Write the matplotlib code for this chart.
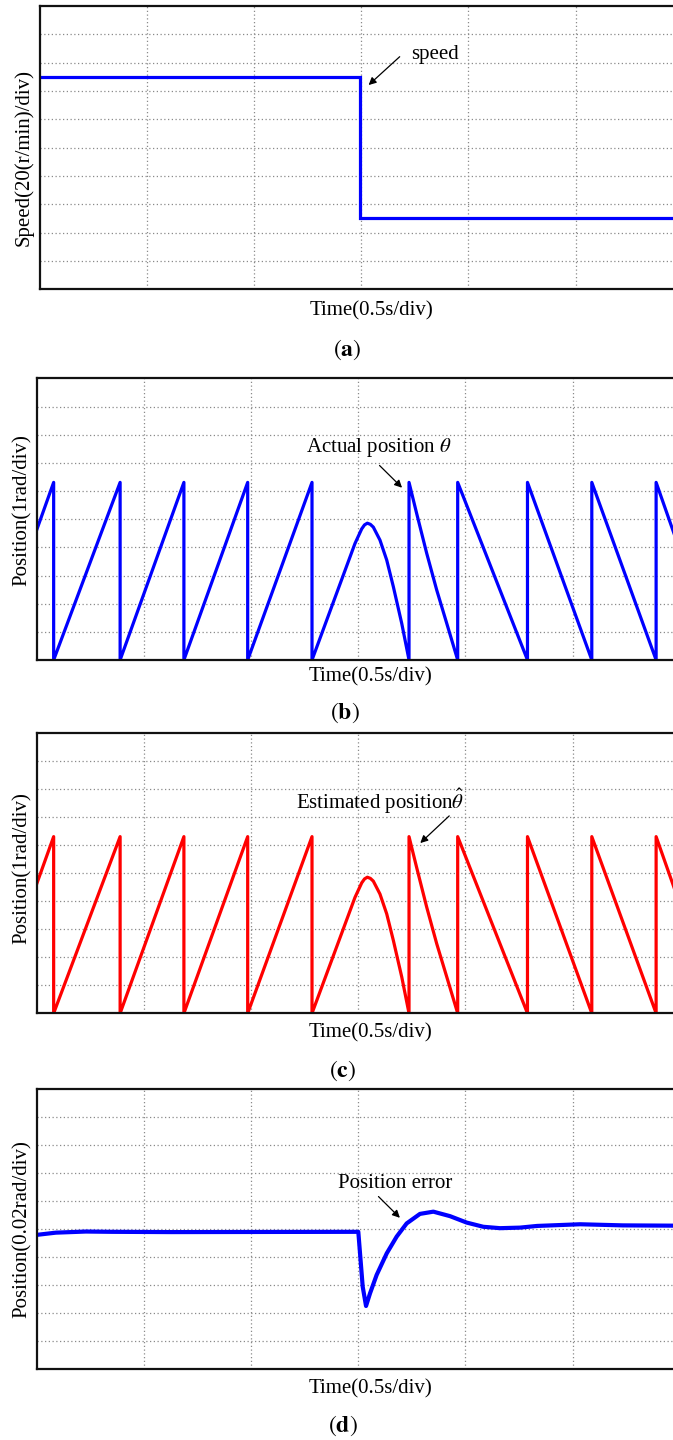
import matplotlib
matplotlib.use("Agg")
import matplotlib.pyplot as plt

plt.rcParams['font.family'] = ['Liberation Serif', 'DejaVu Serif']
plt.rcParams['mathtext.fontset'] = 'stix'

# ---------------- data (time and value in divisions) ----------------
speed_t = [0.0, 2.99, 2.99, 5.95]
speed_v = [7.48, 7.48, 2.50, 2.50]

pos_t = [0.0, 0.16, 0.16, 0.78, 0.78, 1.375, 1.375, 1.97, 1.97, 2.57, 2.57,
         2.971, 3.034, 3.060, 3.086, 3.114, 3.142, 3.204, 3.267,
         3.329, 3.407, 3.475, 3.475,
         3.546, 3.640, 3.733, 3.827, 3.929, 3.929,
         4.58, 4.58, 5.18, 5.18, 5.78, 5.78, 5.95]
pos_v = [4.60, 6.31, 0.0, 6.31, 0.0, 6.31, 0.0, 6.31, 0.0, 6.31, 0.0,
         4.14, 4.66, 4.80, 4.86, 4.82, 4.72, 4.26, 3.55,
         2.60, 1.30, 0.0, 6.31,
         5.21, 3.79, 2.49, 1.30, 0.0, 6.31,
         0.0, 6.31, 0.0, 6.31, 0.0, 6.31, 4.46]

err_t = [0.0, 0.18, 0.46, 0.70, 1.26, 3.002, 3.018, 3.043, 3.074, 3.111,
         3.173, 3.267, 3.36, 3.453, 3.577, 3.702, 3.857, 4.013, 4.168, 4.324,
         4.51, 4.67, 5.07, 5.47, 5.95]
err_v = [4.80, 4.88, 4.92, 4.91, 4.90, 4.91, 4.14, 2.95, 2.26, 2.71,
         3.37, 4.14, 4.74, 5.21, 5.55, 5.63, 5.47, 5.24, 5.09, 5.04,
         5.06, 5.12, 5.18, 5.14, 5.13]

ylabels = ["Speed(20(r/min)/div)", "Position(1rad/div)",
           "Position(1rad/div)", "Position(0.02rad/div)"]
xlabel = "Time(0.5s/div)"
sublabels = [r"$(\mathbf{a})$", r"$(\mathbf{b})$", r"$(\mathbf{c})$", r"$(\mathbf{d})$"]

W, H = 673, 1440
fig = plt.figure(figsize=(W / 100, H / 100), dpi=100)

# panel geometry in pixels: left, top, bottom
geo = [(39.5, 6.0, 289.3), (36.5, 378.5, 660.0),
       (36.5, 733.3, 1013.3), (36.5, 1089.3, 1369.3)]
div_px = 107.2

axes = []
for (left, top, bot) in geo:
    ax = fig.add_axes([left / W, 1 - bot / H, (W - left) / W, (bot - top) / H])
    ax.set_xlim(0, (W - left) / div_px)
    ax.set_ylim(0, 10)
    ax.set_xticks([1, 2, 3, 4, 5])
    ax.set_yticks(range(1, 10))
    ax.tick_params(length=0, labelbottom=False, labelleft=False)
    ax.grid(True, color='#8a8a8a', linestyle=(0, (1, 2)), linewidth=0.9)
    ax.spines['right'].set_visible(False)
    for s in ['left', 'top', 'bottom']:
        ax.spines[s].set_linewidth(1.6)
        ax.spines[s].set_color('#111111')
    axes.append(ax)

axA, axB, axC, axD = axes
axA.plot(speed_t, speed_v, color='#0000ff', lw=2.3, solid_joinstyle='miter')
axB.plot(pos_t, pos_v, color='#0000ff', lw=2.3)
axC.plot(pos_t, pos_v, color='#ff0000', lw=2.3)
axD.plot(err_t, err_v, color='#0000ff', lw=3.0)

arrow = dict(arrowstyle='-|>', color='black', lw=0.9, mutation_scale=11,
             shrinkA=0, shrinkB=0)
fs = 15
axA.text(3.69, 8.30, "speed", fontsize=fs, ha='center', va='center')
axA.annotate("", xy=(3.07, 7.21), xytext=(3.36, 8.21), arrowprops=arrow)

axB.text(3.19, 7.54, r"Actual position $\theta$", fontsize=fs, ha='center', va='center')
axB.annotate("", xy=(3.41, 6.12), xytext=(3.20, 6.91), arrowprops=arrow)

axC.text(3.21, 7.56, r"Estimated position$\hat{\theta}$", fontsize=fs, ha='center', va='center')
axC.annotate("", xy=(3.58, 6.08), xytext=(3.85, 7.05), arrowprops=arrow)

axD.text(3.35, 6.62, "Position error", fontsize=fs, ha='center', va='center')
axD.annotate("", xy=(3.39, 5.41), xytext=(3.19, 6.17), arrowprops=arrow)

ylab_pos = [(24, 158), (22.5, 510), (22, 868), (22, 1229)]
xlab_pos = [(372, 311), (370, 677), (370, 1033), (370, 1389)]
sub_pos = [(347, 350), (345, 713), (343, 1071), (343, 1426)]
for i in range(4):
    x, y = ylab_pos[i]
    fig.text(x / W, 1 - y / H, ylabels[i], rotation=90, fontsize=fs,
             ha='center', va='center')
    x, y = xlab_pos[i]
    fig.text(x / W, 1 - y / H, xlabel, fontsize=fs, ha='center', va='center')
    x, y = sub_pos[i]
    fig.text(x / W, 1 - y / H, sublabels[i], fontsize=17, ha='center', va='center')

fig.savefig("out.png", dpi=100)
